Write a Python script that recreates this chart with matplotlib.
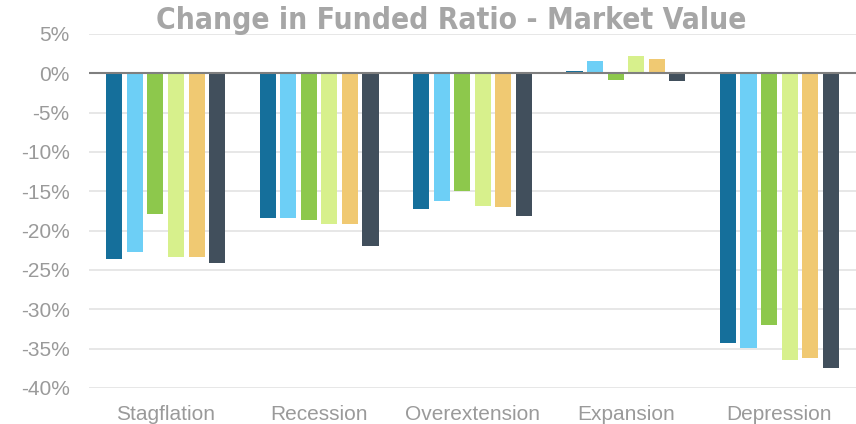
import matplotlib.pyplot as plt
import numpy as np

# datos (en %)
escenarios = ["Stagflation", "Recession", "Overextension", "Expansion", "Depression"]
serie_1 = [-23.6, -18.4, -17.2, 0.3, -34.3]
serie_2 = [-22.7, -18.35, -16.3, 1.5, -34.9]
serie_3 = [-17.9, -18.6, -15.0, -0.8, -32.0]
serie_4 = [-23.4, -19.1, -16.9, 2.2, -36.5]
serie_5 = [-23.4, -19.1, -17.0, 1.8, -36.2]
serie_6 = [-24.1, -22.0, -18.1, -1.0, -37.4]
y_ticks = [5, 0, -5, -10, -15, -20, -25, -30, -35, -40]

series = [serie_1, serie_2, serie_3, serie_4, serie_5, serie_6]
colores = ["#156f9b", "#6dcff6", "#8dc84c", "#d7f08c", "#f0c972", "#414f5c"]

plt.rcParams['font.family'] = ['Liberation Sans', 'DejaVu Sans']

fig = plt.figure(figsize=(8.56, 4.24), dpi=100)
ax = fig.add_axes([0.104, 0.085, 0.896, 0.835])

x = np.arange(len(escenarios))
paso = 0.134
ancho = 0.105
for i, (vals, col) in enumerate(zip(series, colores)):
    ax.bar(x + (i - 2.5) * paso, vals, width=ancho, color=col, zorder=3)

ax.axhline(0, color="#7f7f7f", lw=1.5, zorder=4)
ax.set_xlim(-0.5, len(escenarios) - 0.5)
ax.set_ylim(-40, 5)
ax.set_yticks(y_ticks)
ax.set_yticklabels([f"{v}%" for v in y_ticks])
ax.set_xticks(x)
ax.set_xticklabels(escenarios)
ax.yaxis.grid(True, color="#e3e3e3", lw=1.2, zorder=0)
ax.tick_params(axis="both", length=0, colors="#9a9a9a", labelsize=15)
ax.tick_params(axis="y", pad=14)
ax.tick_params(axis="x", pad=12)
for s in ax.spines.values():
    s.set_visible(False)

fig.text(0.527, 0.952, "Change in Funded Ratio - Market Value", ha="center", va="center",
         fontsize=21.5, fontweight="bold", fontstretch="condensed", color="#a6a6a6",
         family=["DejaVu Sans"])

fig.savefig("out.png", dpi=100)
